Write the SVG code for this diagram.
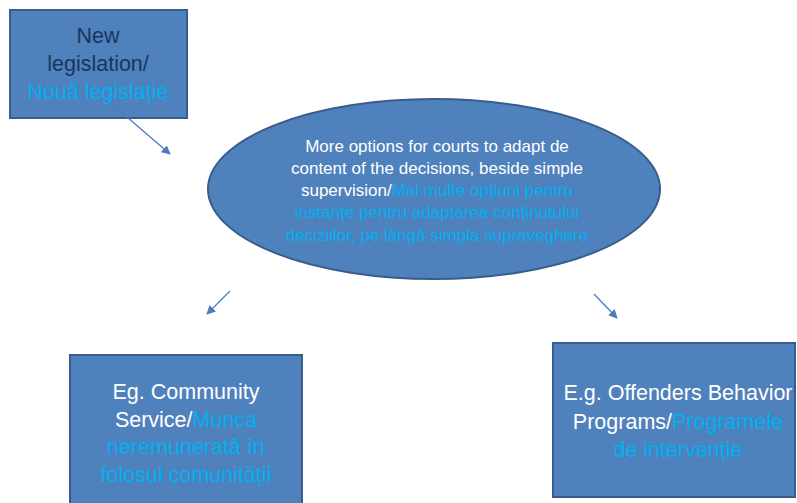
<svg xmlns="http://www.w3.org/2000/svg" width="797" height="503" viewBox="0 0 797 503">
<defs>
<style>
.shape{fill:#4F81BD;stroke:#385D8A;stroke-width:2}
.t{font-family:"Liberation Sans",Arial,sans-serif;text-anchor:middle}
.big{font-size:21.5px}
.small{font-size:17px}
.w{fill:#FFFFFF}
.n{fill:#17375E}
.c{fill:#00B0F0}
.conn{stroke:#4A7EBB;stroke-width:1.3;fill:none}
</style>
<marker id="ah" viewBox="0 0 10 10" refX="9" refY="5" markerWidth="9" markerHeight="9" markerUnits="userSpaceOnUse" orient="auto">
<path d="M0,0 L10,5 L0,10 z" fill="#4A7EBB"/>
</marker>
</defs>
<rect width="797" height="503" fill="#FFFFFF"/>
<g id="node-new-legislation">
<rect class="shape" x="10" y="10" width="177" height="108"/>
<text class="t big" x="98" y="43"><tspan class="n">New</tspan></text>
<text class="t big" x="98" y="71"><tspan class="n">legislation/</tspan></text>
<text class="t big" x="98" y="99"><tspan class="c">Nouă legislație</tspan></text>
</g>
<g id="node-options">
<ellipse class="shape" cx="434" cy="189" rx="226" ry="90"/>
<text class="t small" x="437" y="152"><tspan class="w">More options for courts to adapt de</tspan></text>
<text class="t small" x="437" y="174"><tspan class="w">content of the decisions, beside simple</tspan></text>
<text class="t small" x="437" y="196"><tspan class="w">supervision/</tspan><tspan class="c">Mai multe opțiuni pentru</tspan></text>
<text class="t small" x="437" y="218"><tspan class="c">instanțe pentru adaptarea conținutului</tspan></text>
<text class="t small" x="437" y="241"><tspan class="c">deciziilor, pe lângă simpla supraveghere</tspan></text>
</g>
<g id="node-community-service">
<rect class="shape" x="70" y="355" width="232" height="160"/>
<text class="t big" x="186" y="399"><tspan class="w">Eg. Community</tspan></text>
<text class="t big" x="186" y="427"><tspan class="w">Service/</tspan><tspan class="c">Munca</tspan></text>
<text class="t big" x="186" y="454"><tspan class="c">neremunerată în</tspan></text>
<text class="t big" x="186" y="482"><tspan class="c">folosul comunității</tspan></text>
</g>
<g id="node-offenders-programs">
<rect class="shape" x="553" y="343" width="242" height="154"/>
<text class="t big" x="678" y="400"><tspan class="w">E.g. Offenders Behavior</tspan></text>
<text class="t big" x="678" y="429"><tspan class="w">Programs/</tspan><tspan class="c">Programele</tspan></text>
<text class="t big" x="678" y="457"><tspan class="c">de intervenție</tspan></text>
</g>
<g id="connectors">
<line class="conn" x1="113" y1="105" x2="170" y2="154" marker-end="url(#ah)"/>
<line class="conn" x1="230" y1="291" x2="207" y2="314" marker-end="url(#ah)"/>
<line class="conn" x1="594" y1="294" x2="617" y2="318" marker-end="url(#ah)"/>
</g>
</svg>
